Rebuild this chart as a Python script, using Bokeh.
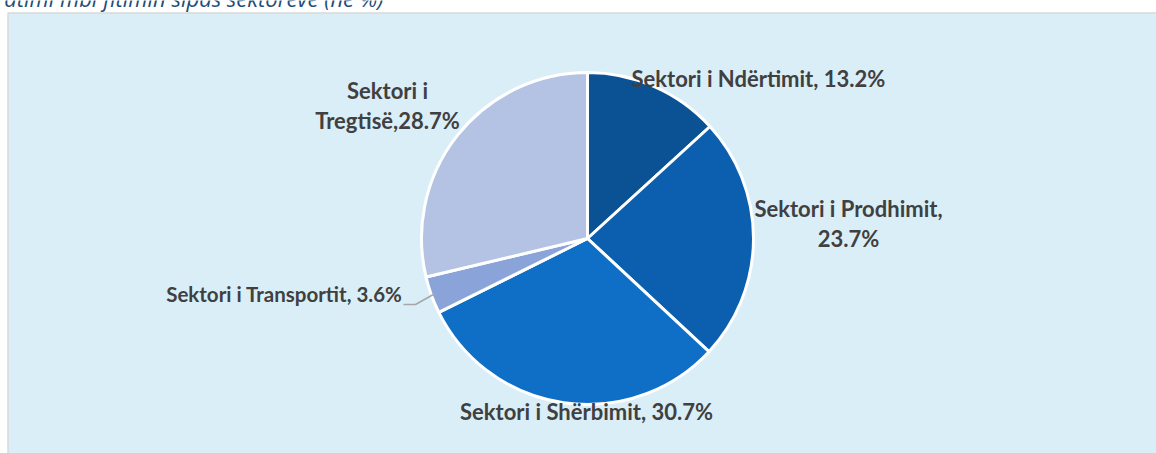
import math
from bokeh.plotting import figure
from bokeh.models import Range1d
from bokeh.core.properties import value
from bokeh.embed import file_html
from bokeh.resources import INLINE

# ---- data ----
sectors = ["Sektori i Ndërtimit", "Sektori i Prodhimit", "Sektori i Shërbimit",
           "Sektori i Transportit", "Sektori i Tregtisë"]
shares = [13.2, 23.7, 30.7, 3.6, 28.7]
labels = ["Sektori i Ndërtimit, 13.2%", "Sektori i Prodhimit,\n23.7%",
          "Sektori i Shërbimit, 30.7%", "Sektori i Transportit, 3.6%",
          "Sektori i\nTregtisë,28.7%"]
colors = ["#0B5294", "#0C5FAF", "#0F6FC6", "#8AA4DA", "#B4C3E3"]
title_text = "Tatimi mbi fitimin sipas sektorëve (në %)"

# ---- layout (screen pixel coordinates) ----
W, H = 1156, 453
CX, CY, R = 587, 238, 166   # pie centre / radius in pixels
# label anchor offsets relative to pie centre (dx, dy, align, font size)
label_layout = [(44, -160, "left", "22px"), (261, -15, "center", "22px"),
                (-1, 173, "center", "22px"), (-185, 55, "right", "20.5px"),
                (-200, -133, "center", "22px")]
LINE_H = 30
FONT = "Lato"


def sx(x):
    return x


def sy(y):
    return H - y


p = figure(width=W, height=H, output_backend="svg", toolbar_location=None,
           x_range=Range1d(0, W), y_range=Range1d(0, H),
           min_border=0, outline_line_color=None)
p.axis.visible = False
p.grid.visible = False
p.background_fill_color = "white"
p.border_fill_color = "white"

# light-blue chart area box
p.quad(left=[7.5], right=[1170], top=[sy(12.5)], bottom=[sy(470)],
       fill_color="#DAEEF8", line_color="#D9D9D9", line_width=1.5)

# title (clipped at top like the reference)
p.text(x=[383], y=[sy(12)], text=[title_text], text_align="right",
       text_baseline="bottom", text_font=value("Open Sans"),
       text_font_style="italic", text_font_size="22px", text_color="#1F4E79")

# pie wedges, clockwise from 12 o'clock
total = sum(shares)
starts, ends, mids = [], [], []
cum = 0.0
for v in shares:
    a0 = math.pi / 2 - cum / total * 2 * math.pi
    cum += v
    a1 = math.pi / 2 - cum / total * 2 * math.pi
    starts.append(a0)
    ends.append(a1)
    mids.append((a0 + a1) / 2)

p.wedge(x=[sx(CX)] * len(shares), y=[sy(CY)] * len(shares), radius=R,
        start_angle=starts, end_angle=ends, direction="clock",
        fill_color=colors, line_color="white", line_width=3)

# labels
for lab, (dx, dy, align, fs) in zip(labels, label_layout):
    lines = lab.split("\n")
    n = len(lines)
    for i, ln in enumerate(lines):
        yy = CY + dy + (i - (n - 1) / 2) * LINE_H
        p.text(x=[sx(CX + dx)], y=[sy(yy)], text=[ln], text_align=align,
               text_baseline="middle", text_font=value(FONT),
               text_font_style="bold", text_font_size=fs, text_color="#404040")

# leader line for the transport slice
m = mids[3]
ex, ey = CX + (R - 3) * math.cos(m), CY - (R - 3) * math.sin(m)
lab_x = CX + label_layout[3][0]
ly = CY + label_layout[3][1] + 11
p.line(x=[sx(lab_x + 1), sx(lab_x + 13), sx(ex)],
       y=[sy(ly), sy(ly), sy(ey)], line_color="#A6A6A6", line_width=1.5)

open("out.html", "w").write(file_html(p, INLINE))
